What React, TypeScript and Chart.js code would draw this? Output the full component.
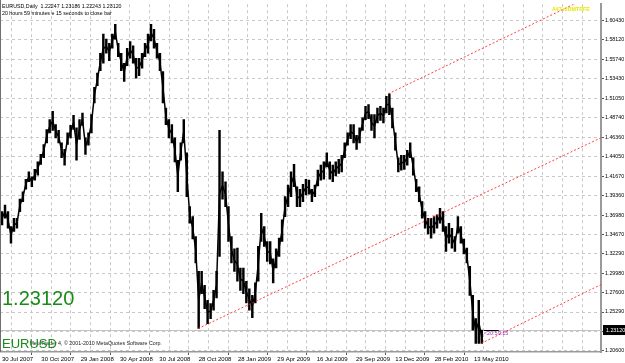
import React, { useEffect, useRef } from "react";
import { Chart, registerables } from "chart.js";

Chart.register(...registerables);

const SYMBOL = "EURUSD";
const TIMEFRAME = "Daily";
const lastBarOHLC = [1.22247, 1.23186, 1.22243, 1.2312];
const lastPrice = 1.2312;
const timerText = "20 hours 59 minutes e 15 seconds to close bar";
const barTimer = "<20:59:15";
const forkName = "A47+2DMTRFE";

const BARS_PER_SAMPLE = 5;

const highs = [
  1.374, 1.382, 1.374, 1.356, 1.366, 1.366, 1.389, 1.398, 1.413, 1.422,
  1.416, 1.425, 1.434, 1.443, 1.455, 1.473, 1.485, 1.495, 1.479, 1.472,
  1.457, 1.449, 1.469, 1.478, 1.49, 1.475, 1.485, 1.493, 1.463, 1.469,
  1.491, 1.524, 1.541, 1.565, 1.588, 1.582, 1.577, 1.588, 1.6, 1.577,
  1.565, 1.553, 1.571, 1.579, 1.574, 1.559, 1.559, 1.565, 1.577, 1.588,
  1.6, 1.594, 1.577, 1.565, 1.543, 1.499, 1.485, 1.479, 1.463, 1.436,
  1.457, 1.485, 1.445, 1.38, 1.368, 1.344, 1.302, 1.302, 1.285, 1.267,
  1.263, 1.279, 1.302, 1.472, 1.422, 1.41, 1.38, 1.344, 1.329, 1.33,
  1.306, 1.306, 1.29, 1.281, 1.273, 1.288, 1.332, 1.372, 1.356, 1.338,
  1.338, 1.317, 1.329, 1.342, 1.364, 1.392, 1.406, 1.422, 1.431, 1.404,
  1.401, 1.407, 1.413, 1.412, 1.401, 1.406, 1.424, 1.43, 1.434, 1.445,
  1.434, 1.43, 1.434, 1.437, 1.442, 1.457, 1.469, 1.479, 1.479, 1.466,
  1.475, 1.487, 1.501, 1.503, 1.491, 1.491, 1.499, 1.501, 1.499, 1.513,
  1.516, 1.499, 1.469, 1.439, 1.442, 1.442, 1.448, 1.457, 1.439, 1.413,
  1.404, 1.386, 1.374, 1.366, 1.366, 1.368, 1.37, 1.378, 1.374, 1.356,
  1.36, 1.354, 1.344, 1.368, 1.356, 1.341, 1.33, 1.308, 1.273, 1.245,
  1.267, 1.231,
];

const lows = [
  1.358, 1.366, 1.354, 1.336, 1.35, 1.354, 1.374, 1.386, 1.401, 1.41,
  1.404, 1.412, 1.418, 1.431, 1.439, 1.457, 1.469, 1.472, 1.463, 1.457,
  1.439, 1.43, 1.455, 1.463, 1.473, 1.436, 1.461, 1.478, 1.443, 1.454,
  1.469, 1.505, 1.526, 1.544, 1.553, 1.565, 1.556, 1.571, 1.582, 1.561,
  1.544, 1.531, 1.55, 1.559, 1.553, 1.535, 1.538, 1.547, 1.561, 1.565,
  1.58, 1.571, 1.559, 1.544, 1.505, 1.479, 1.463, 1.457, 1.434, 1.398,
  1.436, 1.457, 1.392, 1.36, 1.341, 1.312, 1.233, 1.275, 1.257, 1.239,
  1.245, 1.255, 1.27, 1.32, 1.389, 1.38, 1.338, 1.312, 1.302, 1.29,
  1.279, 1.275, 1.264, 1.255, 1.246, 1.264, 1.29, 1.338, 1.332, 1.314,
  1.311, 1.288, 1.306, 1.32, 1.338, 1.368, 1.38, 1.392, 1.404, 1.38,
  1.38, 1.386, 1.394, 1.395, 1.386, 1.392, 1.405, 1.412, 1.413, 1.428,
  1.413, 1.41, 1.417, 1.42, 1.422, 1.439, 1.454, 1.462, 1.457, 1.449,
  1.457, 1.472, 1.485, 1.486, 1.472, 1.463, 1.481, 1.484, 1.481, 1.493,
  1.491, 1.475, 1.448, 1.422, 1.424, 1.425, 1.43, 1.439, 1.418, 1.398,
  1.386, 1.366, 1.354, 1.347, 1.342, 1.348, 1.354, 1.36, 1.35, 1.326,
  1.336, 1.33, 1.326, 1.348, 1.336, 1.323, 1.312, 1.273, 1.231, 1.215,
  1.215, 1.215,
];

const dateLabels = [
  "30 Jul 2007", "30 Oct 2007", "29 Jan 2008", "30 Apr 2008", "30 Jul 2008",
  "28 Oct 2008", "28 Jan 2009", "29 Apr 2009", "16 Jul 2009", "29 Sep 2009",
  "13 Dec 2009", "28 Feb 2010", "13 May 2010",
];
const BARS_PER_LABEL = 66;

const priceTicks = [
  1.6043, 1.5812, 1.5574, 1.5343, 1.5105, 1.4874, 1.4636, 1.4405, 1.4167,
  1.3936, 1.3698, 1.3467, 1.3229, 1.2998, 1.276, 1.2529, 1.2291, 1.206,
];
const priceLabels = [
  "1.60430", "1.58120", "1.55740", "1.53430", "1.51050", "1.48740", "1.46360",
  "1.44050", "1.41670", "1.39360", "1.36980", "1.34670", "1.32290", "1.29980",
  "1.27600", "1.25290", "", "1.20600",
];

// pitchfork lines: [bar index, price]
const medianLine = [[329, 1.233], [1005, 1.463]];
const upperLine = [[648, 1.516], [1005, 1.64]];
const lowerLine = [[804, 1.215], [1005, 1.286]];

const X_MIN = -3.41;
const X_MAX = 1005.15;
const Y_MIN = 1.20469;
const Y_MAX = 1.6242;

const FONT = '"Liberation Sans", Arial, sans-serif';

const overlay = {
  id: "mtOverlay",
  beforeDatasetsDraw(chart: any) {
    const { ctx, chartArea, scales } = chart;
    const py = Math.round(scales.y.getPixelForValue(lastPrice)) + 0.5;
    ctx.save();
    ctx.strokeStyle = "#c4c4c4";
    ctx.lineWidth = 1;
    ctx.beginPath();
    ctx.moveTo(chartArea.left, py);
    ctx.lineTo(chartArea.right, py);
    ctx.stroke();
    ctx.restore();
  },
  afterDraw(chart: any) {
    const { ctx, chartArea, scales } = chart;
    const W = chart.width;
    ctx.save();
    // left frame
    ctx.strokeStyle = "#707070";
    ctx.lineWidth = 1;
    ctx.beginPath();
    ctx.moveTo(0.5, 0);
    ctx.lineTo(0.5, chartArea.bottom);
    ctx.stroke();

    // header
    ctx.fillStyle = "#000";
    ctx.textAlign = "left";
    ctx.textBaseline = "alphabetic";
    ctx.font = `5.3px ${FONT}`;
    ctx.fillText(
      `${SYMBOL},${TIMEFRAME}  ` + lastBarOHLC.map((v) => v.toFixed(5)).join(" "),
      2,
      7.5
    );
    ctx.fillText(timerText, 2, 14.5);

    // copyright
    ctx.font = `5.3px ${FONT}`;
    ctx.fillStyle = "#202020";
    const pre = "MetaTrader 4, ";
    const preW = ctx.measureText(pre).width;
    ctx.fillText(pre, 64 - preW, 345);
    ctx.fillText("\u00a9 2001-2010 MetaQuotes Software Corp.", 64, 345);

    // big green price and symbol
    ctx.fillStyle = "#1a8a1a";
    ctx.font = `20px ${FONT}`;
    ctx.fillText(lastPrice.toFixed(5), 2, 305);
    ctx.font = `13px ${FONT}`;
    ctx.fillText(SYMBOL, 2, 347.5);

    // timer near last bar
    const py = scales.y.getPixelForValue(lastPrice);
    const lx = scales.x.getPixelForValue((highs.length - 1) * BARS_PER_SAMPLE) + 2;
    ctx.strokeStyle = "#000";
    ctx.beginPath();
    ctx.moveTo(lx, Math.round(py) + 0.5);
    ctx.lineTo(lx + 15, Math.round(py) + 0.5);
    ctx.stroke();
    ctx.fillStyle = "#a030b0";
    ctx.font = `5.5px ${FONT}`;
    ctx.textBaseline = "top";
    ctx.fillText(barTimer, lx, py + 1);

    // pitchfork name
    ctx.fillStyle = "#e8e800";
    ctx.font = `bold 5.3px ${FONT}`;
    ctx.textBaseline = "alphabetic";
    ctx.fillText(forkName, 552, 10.5);

    // current price box on the scale
    ctx.fillStyle = "#000";
    ctx.fillRect(chartArea.right + 2, py - 5, W - chartArea.right - 2, 10);
    ctx.fillStyle = "#fff";
    ctx.font = `5.3px ${FONT}`;
    ctx.textBaseline = "middle";
    ctx.fillText(lastPrice.toFixed(5), chartArea.right + 5, py + 0.5);
    ctx.restore();
  },
};

const fork = (pts: number[][]) => ({
  type: "line" as const,
  data: pts.map(([x, y]) => ({ x, y })),
  borderColor: "rgba(255,30,30,0.85)",
  borderWidth: 1,
  borderDash: [2, 2],
  pointRadius: 0,
  fill: false,
  order: 0,
});

export default function App() {
  const ref = useRef<HTMLCanvasElement | null>(null);

  useEffect(() => {
    if (!ref.current) return;
    const chart = new Chart(ref.current, {
      type: "bar",
      data: {
        datasets: [
          fork(medianLine) as any,
          fork(upperLine) as any,
          fork(lowerLine) as any,
          {
            type: "line",
            data: highs.map((h, i) => ({ x: i * BARS_PER_SAMPLE, y: (h + lows[i]) / 2 })),
            borderColor: "#000",
            borderWidth: 1.5,
            pointRadius: 0,
            fill: false,
            order: 1,
          } as any,
          {
            type: "bar",
            data: highs.map((h, i) => ({ x: i * BARS_PER_SAMPLE, y: [lows[i], h] })),
            backgroundColor: "#000",
            borderWidth: 0,
            barThickness: 1.8,
            order: 2,
          } as any,
        ],
      },
      options: {
        responsive: false,
        animation: false,
        events: [],
        layout: { padding: 0 },
        plugins: { legend: { display: false }, tooltip: { enabled: false } },
        scales: {
          x: {
            type: "linear",
            min: X_MIN,
            max: X_MAX,
            offset: false,
            afterBuildTicks: (s: any) => {
              const t = [];
              for (let v = 0; v <= X_MAX; v += BARS_PER_LABEL / 2) t.push({ value: v });
              s.ticks = t;
            },
            afterFit: (s: any) => {
              s.height = 11;
            },
            ticks: {
              autoSkip: false,
              maxRotation: 0,
              minRotation: 0,
              align: "start",
              padding: 1,
              color: "#000",
              font: { family: FONT, size: 6 },
              callback: (_v: any, i: number) =>
                i % 2 === 0 ? dateLabels[i / 2] ?? "" : "",
            },
            grid: {
              color: "#c8c8c8",
              lineWidth: 1,
              tickLength: 3,
              tickColor: (c: any) =>
                c.index % 2 === 0 && c.index / 2 < dateLabels.length ? "#555" : "rgba(0,0,0,0)",
            },
            border: { color: "#9a9a9a", width: 1.5, dash: [3, 3] },
          },
          y: {
            type: "linear",
            position: "right",
            min: Y_MIN,
            max: Y_MAX,
            afterBuildTicks: (s: any) => {
              s.ticks = priceTicks.map((v) => ({ value: v }));
            },
            afterFit: (s: any) => {
              s.width = 24;
            },
            ticks: {
              autoSkip: false,
              padding: 1,
              color: "#000",
              font: { family: FONT, size: 5.3 },
              callback: (_v: any, i: number) => priceLabels[i],
            },
            grid: { color: "#c8c8c8", lineWidth: 1, tickLength: 3, tickColor: "#555" },
            border: { color: "#9a9a9a", width: 2, dash: [3, 3] },
          },
        },
      },
      plugins: [overlay],
    });
    return () => chart.destroy();
  }, []);

  return (
    <div style={{ position: "fixed", left: 0, top: 0, width: 625, height: 363, background: "#fff" }}>
      <canvas ref={ref} width={625} height={363} style={{ display: "block" }} />
    </div>
  );
}
